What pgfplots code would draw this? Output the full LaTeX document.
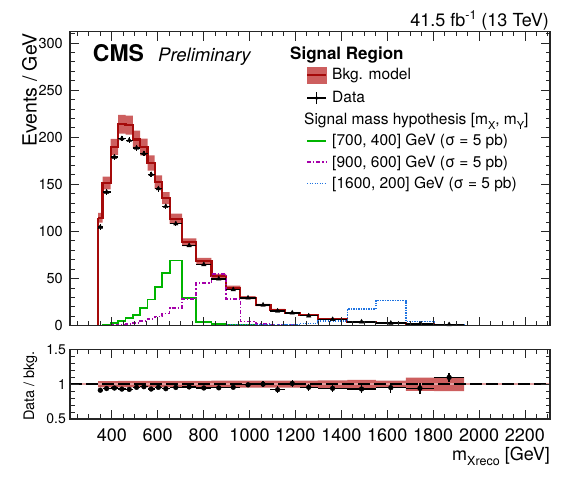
\documentclass[border=0pt]{standalone}
\usepackage{fontspec}
\setmainfont{TeX Gyre Heros}
\usepackage{pgfplots}
\usepackage{pgfplotstable}
\pgfplotsset{compat=1.18}
\usepgfplotslibrary{fillbetween}

\definecolor{bandcol}{RGB}{205,95,95}
\definecolor{bkgcol}{RGB}{165,10,10}
\definecolor{sgreen}{RGB}{0,180,0}
\definecolor{spurple}{RGB}{165,0,170}
\definecolor{sblue}{RGB}{30,115,225}

% background model: e = left bin edge (last row = right edge of last bin)
\pgfplotstableread{
e bkg unc
340 114.6 0.045
360 151.4 0.045
395 189.7 0.045
428 213.8 0.047
460 212.8 0.047
492 197.6 0.047
524 189.7 0.047
556 172.7 0.047
587 152.4 0.047
619 135.4 0.047
652 113.5 0.047
706 88.6 0.047
768 68.7 0.047
834 52.5 0.05
898 40.4 0.05
960 29.8 0.05
1027 22.0 0.05
1091 17.0 0.05
1154 13.5 0.05
1218 11.0 0.05
1298 7.1 0.055
1426 4.3 0.06
1550 2.9 0.05
1681 1.8 0.095
1804 1.1 0.1
1935 1.1 0.1
}\bkgtab

% signals: e = left bin edge
\pgfplotstableread{
e g p b
218 0 0 0
340 0.2 0 0
360 0.9 0 0
395 2.9 0.5 0
428 5.3 1.0 0
460 8.2 1.5 0
492 11.4 3.0 0
524 18.8 5.3 0
556 27.7 7.4 0
587 40.7 9.9 0
619 55.7 12.8 0
652 69.1 19.0 0.2
706 29.0 28.4 0.3
768 3.5 45.0 0.3
834 1.8 54.6 0.4
898 1.0 28.4 0.5
960 0.5 4.6 0.5
1027 0.3 1.5 0.7
1091 0.2 0.8 0.9
1154 0.1 0.5 1.2
1218 0.1 0.3 2.5
1298 0 0.2 5.3
1426 0 0.1 17.7
1550 0 0 26.6
1681 0 0 4.6
1804 0 0 1.0
1935 0 0 0
2309 0 0 0
}\sigtab

% data
\pgfplotstableread{
lo hi d err r rerr
340 360 104.6 3.0 0.913 0.026
360 395 141.8 3.0 0.937 0.02
395 428 179.0 3.0 0.944 0.016
428 460 198.6 3.0 0.929 0.014
460 492 196.8 3.0 0.925 0.014
492 524 188.6 3.0 0.954 0.015
524 556 182.7 3.0 0.963 0.016
556 587 160.6 3.0 0.930 0.017
587 619 145.4 3.0 0.954 0.02
619 652 126.6 2.8 0.935 0.02
652 706 108.2 2.2 0.953 0.02
706 768 85.1 1.8 0.960 0.02
768 834 64.9 1.5 0.945 0.022
834 898 49.7 1.3 0.947 0.025
898 960 38.3 1.2 0.955 0.03
960 1027 29.5 1.0 0.990 0.033
1027 1091 22.0 0.9 1.000 0.04
1091 1154 15.6 0.8 0.920 0.05
1154 1218 13.6 0.7 1.010 0.05
1218 1298 10.5 0.6 0.955 0.05
1298 1426 6.7 0.4 0.940 0.05
1426 1550 4.0 0.3 0.930 0.06
1550 1681 2.75 0.25 0.950 0.07
1681 1804 1.7 0.2 0.940 0.08
1804 1935 1.2 0.15 1.097 0.07
}\datatab

\newcommand{\fs}[1]{\fontsize{#1bp}{#1bp}\selectfont}

\pgfplotsset{
  rootstyle/.style={
    scale only axis, width=480bp,
    xmin=218, xmax=2309,
    axis line style={line width=1.1bp, black!85},
    tick style={line width=0.9bp, black!85},
    tick align=inside, xtick pos=both, ytick pos=both,
    major tick length=9bp, minor tick length=4.5bp,
    xtick={400,600,...,2200},
    minor xtick={250,300,...,2300},
    /pgf/number format/assume math mode=true,
    /pgf/number format/1000 sep={},
    axis on top,
  },
}

\begin{document}
\begin{tikzpicture}

\begin{axis}[rootstyle,
  at={(70bp,164.3bp)}, anchor=south west,
  height=294bp,
  ymin=0, ymax=312,
  xticklabel=\empty,
  ytick={0,50,...,300},
  minor ytick={0,10,...,310},
  yticklabel style={font=\fs{14.5}, inner sep=0pt, xshift=-7bp},
  legend style={at={(0.4917,0.8808)}, anchor=north west, draw=none, fill=none,
    inner sep=0pt, outer sep=0pt, row sep=8.3bp, column sep=5bp,
    font=\fs{15.5}, nodes={inner sep=0pt}},
  legend cell align=left,
]
% bkg uncertainty band
\addplot[name path=up, draw=none, const plot, forget plot] table[x=e, y expr={\thisrow{bkg}*(1+\thisrow{unc})}] \bkgtab;
\addplot[name path=lo, draw=none, const plot, forget plot] table[x=e, y expr={\thisrow{bkg}*(1-\thisrow{unc})}] \bkgtab;
\addplot[fill=bandcol, draw=none, forget plot] fill between[of=up and lo];
% bkg line
\addplot[bkgcol, line width=2.2bp, forget plot] coordinates {(340,0) (340,114.6)};
\addplot[bkgcol, line width=2.2bp, const plot, forget plot] table[x=e, y=bkg] \bkgtab;
% signals
\addplot[sgreen, line width=1.8bp, const plot, forget plot] table[x=e, y=g] \sigtab;
\addplot[spurple, line width=1.6bp, const plot, dash pattern=on 4bp off 2bp on 1.2bp off 2bp, forget plot] table[x=e, y=p] \sigtab;
\addplot[sblue, line width=1.6bp, const plot, dash pattern=on 1.3bp off 1.2bp, forget plot] table[x=e, y=b] \sigtab;
% data
\addplot[black, only marks, mark=triangle*, mark size=2.6bp, forget plot,
  error bars/.cd, x dir=both, x explicit, y dir=both, y explicit,
  error mark=none, error bar style={line width=1.3bp, black}]
  table[x expr={0.5*(\thisrow{lo}+\thisrow{hi})}, y=d,
        x error expr={0.5*(\thisrow{hi}-\thisrow{lo})}, y error=err] \datatab;

\addlegendimage{legend image code/.code={\fill[bandcol] (0bp,-8bp) rectangle (19bp,8bp); \draw[bkgcol,line width=2.2bp] (0bp,0bp)--(19bp,0bp);}}
\addlegendentry{Bkg. model}
\addlegendimage{legend image code/.code={\draw[black,line width=1.3bp] (0bp,0bp)--(19bp,0bp) (9.5bp,-6bp)--(9.5bp,6bp); \fill[black] (9.5bp,0bp) circle (1.6bp);}}
\addlegendentry{Data}
\addlegendimage{empty legend}
\addlegendentry{\phantom{X}}
\addlegendimage{legend image code/.code={\draw[sgreen,line width=1.8bp] (0bp,0bp)--(19bp,0bp);}}
\addlegendentry{[700, 400] GeV (σ = 5 pb)}
\addlegendimage{legend image code/.code={\draw[spurple,line width=1.6bp,dash pattern=on 4bp off 2bp on 1.2bp off 2bp] (0bp,0bp)--(19bp,0bp);}}
\addlegendentry{[900, 600] GeV (σ = 5 pb)}
\addlegendimage{legend image code/.code={\draw[sblue,line width=1.6bp,dash pattern=on 1.3bp off 1.2bp] (0bp,0bp)--(19bp,0bp);}}
\addlegendentry{[1600, 200] GeV (σ = 5 pb)}
\end{axis}

\begin{axis}[rootstyle,
  at={(70bp,140.7bp)}, anchor=north west,
  height=69.7bp,
  ymin=0.5, ymax=1.5,
  xticklabels={400,600,800,1000,1200,1400,1600,1800,2000,2200},
  xticklabel style={font=\fs{18}, inner sep=0pt, yshift=-10bp},
  ytick={0.5,1,1.5}, yticklabels={0.5,1,1.5},
  minor ytick={0.6,0.7,0.8,0.9,1.1,1.2,1.3,1.4},
  yticklabel style={font=\fs{14}, inner sep=0pt, xshift=-4bp},
]
\addplot[name path=rup, draw=none, const plot] table[x=e, y expr={1+\thisrow{unc}}] \bkgtab;
\addplot[name path=rlo, draw=none, const plot] table[x=e, y expr={1-\thisrow{unc}}] \bkgtab;
\addplot[fill=bandcol, draw=none] fill between[of=rup and rlo];
\addplot[color=bandcol!60, line width=1.3bp] coordinates {(218,1) (2309,1)};
\addplot[black, line width=1.3bp, dash pattern=on 12bp off 4bp] coordinates {(218,1) (2309,1)};
\addplot[black, only marks, mark=*, mark size=2.4bp,
  error bars/.cd, x dir=both, x explicit, y dir=both, y explicit,
  error mark=none, error bar style={line width=1.3bp, black}]
  table[x expr={0.5*(\thisrow{lo}+\thisrow{hi})}, y=r,
        x error expr={0.5*(\thisrow{hi}-\thisrow{lo})}, y error=rerr] \datatab;
\end{axis}

% texts
\node[anchor=base west, inner sep=0pt, font=\fs{23}\bfseries] at (92.7bp,428.3bp) {CMS};
\node[anchor=base west, inner sep=0pt, font=\fs{18.5}\itshape] at (158bp,428.3bp) {Preliminary};
\node[anchor=base east, inner sep=0pt, font=\fs{18}] at (549bp,463.3bp) {41.5 fb\raisebox{7bp}{\fs{12.5}-1} (13 TeV)};
\node[anchor=base west, inner sep=0pt, font=\fs{17}\bfseries] at (290bp,430.7bp) {Signal Region};
\node[anchor=base west, inner sep=0pt, font=\fs{15.5}] at (304bp,365bp) {Signal mass hypothesis [m\raisebox{-4.5bp}{\fs{11}X}, m\raisebox{-4.5bp}{\fs{11}Y}]};
\node[anchor=base east, inner sep=0pt, font=\fs{19.5}, rotate=90] at (36.7bp,457bp) {Events / GeV};
\node[anchor=base, inner sep=0pt, font=\fs{14.5}, rotate=90] at (34bp,104bp) {Data / bkg.};
\node[anchor=base east, inner sep=0pt, font=\fs{18}] at (550bp,30bp) {m\raisebox{-5bp}{\fs{12.5}Xreco} [GeV]};
\path (0,0) rectangle (580bp,490bp);
\end{tikzpicture}
\end{document}
